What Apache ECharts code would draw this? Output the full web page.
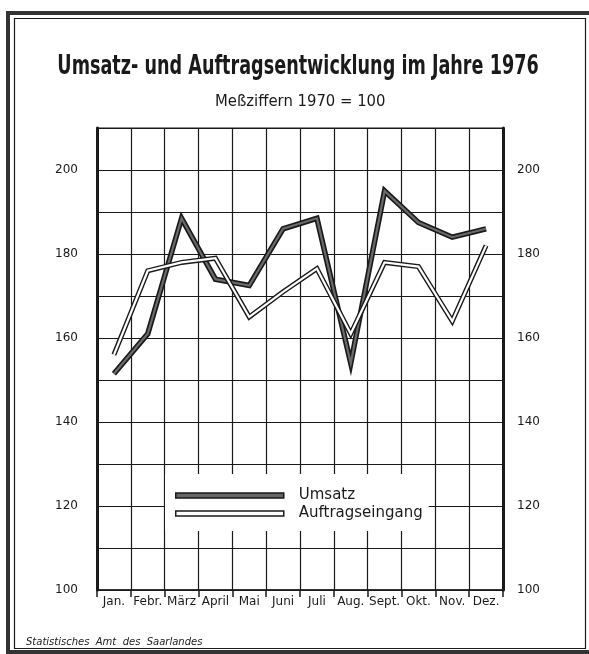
<!DOCTYPE html>
<html>
<head>
<meta charset="utf-8">
<title>Umsatz- und Auftragsentwicklung 1976</title>
<script src="https://cdn.jsdelivr.net/npm/echarts@6/dist/echarts.min.js"></script>
<style>
  html, body { margin: 0; padding: 0; background: #fff; }
  #main { width: 589px; height: 654px; }
</style>
</head>
<body>
<div id="main"></div>
<script>
// Monate
var months = ['Jan.', 'Febr.', 'März', 'April', 'Mai', 'Juni', 'Juli', 'Aug.', 'Sept.', 'Okt.', 'Nov.', 'Dez.'];
// Meßziffern 1970 = 100
var umsatz = [151.5, 161, 188.5, 174, 172.5, 186, 188.5, 154, 195, 187.5, 184, 186];
var auftragseingang = [156, 176, 178, 179, 165, 171, 176.5, 161, 178, 177, 164, 182];
// y-Achse: Linien alle 10, Beschriftung alle 20
var yTicks = [100, 120, 140, 160, 180, 200];

var ink = '#1a1a1a';
var fontMain = 'DejaVu Sans';

function yLabel(v) {
  return yTicks.indexOf(v) > -1 ? String(v) : '';
}

var chart = echarts.init(document.getElementById('main'), null, { renderer: 'canvas' });

var option = {
  backgroundColor: '#fff',
  animation: false,
  title: [{
    text: 'Meßziffern 1970 = 100',
    left: 215,
    top: 93,
    padding: 0,
    textStyle: { fontFamily: 'DejaVu Sans Condensed', fontSize: 16.5, fontWeight: 'normal', color: ink }
  }, {
    text: 'Statistisches  Amt  des  Saarlandes',
    left: 26,
    top: 637,
    padding: 0,
    textStyle: { fontFamily: fontMain, fontSize: 10, fontStyle: 'italic', fontWeight: 'normal', color: ink }
  }],
  graphic: [{
    type: 'rect',
    shape: { x: 8, y: 13, width: 620, height: 639 },
    style: { fill: null, stroke: '#333', lineWidth: 4 },
    silent: true
  }, {
    type: 'rect',
    shape: { x: 14.5, y: 18.5, width: 571, height: 630 },
    style: { fill: null, stroke: ink, lineWidth: 1.2 },
    silent: true
  }, {
    // Überschrift, schmal gesetzt wie im Original
    type: 'text',
    x: 298,
    y: 67,
    scaleX: 0.725,
    silent: true,
    style: {
      text: 'Umsatz- und Auftragsentwicklung im Jahre 1976',
      fontFamily: 'DejaVu Sans Condensed',
      fontSize: 27,
      fontWeight: 'bold',
      fill: ink,
      align: 'center',
      verticalAlign: 'middle'
    }
  }],
  grid: {
    left: 97,
    right: 86,
    top: 128,
    bottom: 64,
    show: true,
    borderColor: ink,
    borderWidth: 1.2
  },
  legend: {
    orient: 'vertical',
    left: 165,
    top: 474,
    padding: [14, 6, 10, 10],
    itemGap: 3,
    itemWidth: 108,
    itemHeight: 5,
    backgroundColor: '#fff',
    selectedMode: false,
    icon: 'rect',
    textStyle: { fontFamily: fontMain, fontSize: 15, color: ink, padding: [0, 0, 0, 10] },
    data: [{
      name: 'Umsatz',
      itemStyle: { color: '#666', borderColor: ink, borderWidth: 1.5 }
    }, {
      name: 'Auftragseingang',
      itemStyle: { color: '#fff', borderColor: ink, borderWidth: 1.5 }
    }]
  },
  xAxis: {
    type: 'category',
    data: months,
    boundaryGap: true,
    axisLine: { show: true, lineStyle: { color: ink, width: 1.5 } },
    axisTick: { show: true, interval: 0, length: 7, lineStyle: { color: ink, width: 1.5 } },
    axisLabel: { interval: 0, fontFamily: fontMain, fontSize: 12, color: ink, margin: 6 },
    splitLine: { show: true, interval: 0, lineStyle: { color: ink, width: 1.2 } }
  },
  yAxis: [{
    type: 'value',
    position: 'left',
    min: 100,
    max: 210,
    interval: 10,
    axisLine: { show: true, lineStyle: { color: ink, width: 3 } },
    axisTick: { show: false },
    axisLabel: { fontFamily: fontMain, fontSize: 12, color: ink, margin: 19, formatter: yLabel },
    splitLine: { show: true, lineStyle: { color: ink, width: 1.2 } }
  }, {
    type: 'value',
    position: 'right',
    min: 100,
    max: 210,
    interval: 10,
    axisLine: { show: true, lineStyle: { color: ink, width: 3 } },
    axisTick: { show: false },
    axisLabel: { fontFamily: fontMain, fontSize: 12, color: ink, margin: 14, formatter: yLabel },
    splitLine: { show: false }
  }],
  series: [{
    // äußere Kontur Umsatz
    name: 'Umsatz',
    type: 'line',
    data: umsatz,
    symbol: 'none',
    silent: true,
    z: 3,
    lineStyle: { color: ink, width: 5.5, join: 'miter' }
  }, {
    name: 'Umsatz',
    type: 'line',
    data: umsatz,
    symbol: 'none',
    silent: true,
    z: 4,
    lineStyle: { color: '#6a6a6a', width: 2.2, join: 'miter' }
  }, {
    // Doppellinie Auftragseingang
    name: 'Auftragseingang',
    type: 'line',
    data: auftragseingang,
    symbol: 'none',
    silent: true,
    z: 5,
    lineStyle: { color: ink, width: 5, join: 'miter' }
  }, {
    name: 'Auftragseingang',
    type: 'line',
    data: auftragseingang,
    symbol: 'none',
    silent: true,
    z: 6,
    lineStyle: { color: '#fff', width: 2.2, join: 'miter' }
  }]
};

chart.setOption(option);
</script>
</body>
</html>
